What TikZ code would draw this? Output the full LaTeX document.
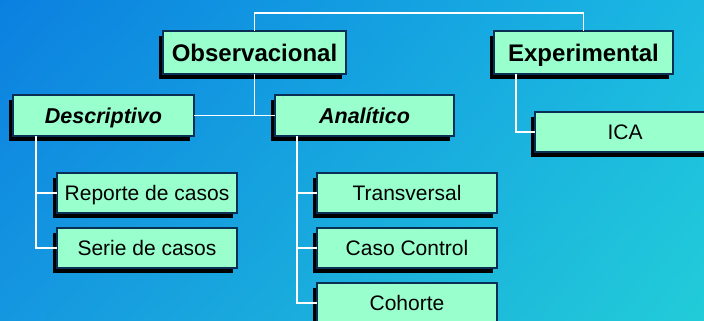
\documentclass[tikz,border=0pt]{standalone}
\usepackage{fontspec}
\setmainfont{Liberation Sans}
\usetikzlibrary{shadows,shadings}
\definecolor{boxfill}{HTML}{99FFCC}
\definecolor{boxline}{HTML}{0A2F55}
\definecolor{bgUL}{HTML}{0B80E0}
\definecolor{bgUR}{HTML}{1BB9E2}
\definecolor{bgLL}{HTML}{1597E0}
\definecolor{bgLR}{HTML}{22CCD8}
\tikzset{
  box/.style={draw=boxline, line width=1.2pt, fill=boxfill, anchor=north west,
    inner sep=0pt, outer sep=0pt, text depth=0pt,
    drop shadow={shadow xshift=-4pt, shadow yshift=-5pt, opacity=1, fill=black}},
  topbox/.style={box, text height=17.2pt, font=\fontsize{24}{28}\selectfont\bfseries},
  midbox/.style={box, text height=15.4pt, font=\fontsize{21.5}{25}\selectfont\bfseries\itshape},
  leafbox/.style={box, text height=15pt, font=\fontsize{21}{25}\selectfont},
  conn/.style={draw=white, line width=1.5pt},
}
\begin{document}
\begin{tikzpicture}[x=1pt,y=-1pt]
\useasboundingbox (0,0) rectangle (704,321);
\clip (0,0) rectangle (704,321);
\shade[upper left=bgUL, upper right=bgUR, lower left=bgLL, lower right=bgLR] (0,0) rectangle (704,321);
\coordinate (dtrunk) at (36,136);
\coordinate (atrunk) at (297,136);
\coordinate (etrunk) at (516,74);
\coordinate (toprow) at (0,13);
% nodes
\node[topbox, minimum width=183pt, minimum height=43pt] (obs) at (163,31) {Observacional};
\node[topbox, minimum width=179pt, minimum height=43pt] (exp) at (494,31) {Experimental};
\node[midbox, minimum width=181pt, minimum height=41pt] (desc) at (13,95) {Descriptivo};
\node[midbox, minimum width=179pt, minimum height=41pt] (ana) at (275,95) {Analítico};
\node[leafbox, minimum width=180pt, minimum height=40pt] (ica) at (535,112) {ICA};
\node[leafbox, minimum width=180pt, minimum height=40pt] (rep) at (57,173) {Reporte de casos};
\node[leafbox, minimum width=180pt, minimum height=40pt] (ser) at (57,228) {Serie de casos};
\node[leafbox, minimum width=180pt, minimum height=40pt] (tra) at (317,173) {Transversal};
\node[leafbox, minimum width=180pt, minimum height=40pt] (cc) at (317,228) {Caso Control};
\node[leafbox, minimum width=180pt, minimum height=40pt] (coh) at (317,283) {Cohorte};
% connectors
\draw[conn] (obs.north) -- (obs.north |- toprow) -| (exp.north);
\draw[conn] (desc.east) -- (ana.west);
\draw[conn] (obs.south) -- (obs.south |- desc.east);
\draw[conn] (dtrunk) |- (rep.west);
\draw[conn] (dtrunk) |- (ser.west);
\draw[conn] (atrunk) |- (tra.west);
\draw[conn] (atrunk) |- (cc.west);
\draw[conn] (atrunk) |- (coh.west);
\draw[conn] (etrunk) |- (ica.west);
\end{tikzpicture}
\end{document}
